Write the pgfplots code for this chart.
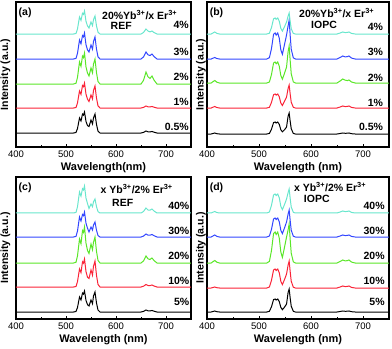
\documentclass[border=0pt]{standalone}
\usepackage{fontspec}
\setmainfont{Liberation Sans}
\usepackage{pgfplots}
\usepackage{pgfplotstable}
\pgfplotsset{compat=1.18}

\definecolor{cK}{RGB}{0,0,0}
\definecolor{cR}{RGB}{250,35,55}
\definecolor{cG}{RGB}{90,230,40}
\definecolor{cB}{RGB}{50,70,255}
\definecolor{cC}{RGB}{105,230,205}

% REF, 20%Yb / x Er (offsets already in the numbers)
\pgfplotstableread{
x k r g b c
400 14 39 63 88 113
515 14 39 63 88 113
520 14.5 39.5 63.7 88.6 113.5
523 18.5 44.1 69.6 93.7 118.1
527 29 56 85 107 130
530 26 52.6 80.6 103.2 126.6
533 32.9 61.5 90.9 111.4 133.7
535 31.9 60.3 89.4 110.1 132.6
537 35 64 94 114 136
540 25.6 52.8 80.1 102.3 125.7
543 21.4 47.8 73.9 97.1 121.1
546 20.5 45.5 71 95 119
550 27 52 79 102 125
553 23.1 48.1 74.2 97.8 121.4
555 29.2 56.6 83 105.6 127.4
558 33 61 88 110 131
561 22.6 48.9 74.3 97.9 121.1
564 15.9 41.2 65.5 90.2 114.8
568 14 39 63 88 113
650 14 39 63 88 113
655 14.6 39.6 66.6 90.1 114.5
660 16 41 75 95 118
664 15.2 40.2 70.2 92.2 116
668 15.1 40.1 68.6 91.5 115.1
672 15.5 40.5 71 93 116
676 14.8 39.8 67 90.5 114.5
682 14 39 63 88 113
750 14 39 63 88 113
}\dataA

% IOPC, 20%Yb / x Er
\pgfplotstableread{
x k r g b c
400 13 39 64 88 113
408 13 39 64 88 113
412 13.6 39.9 65.5 88.9 114.2
415 14 40.5 66.5 89.5 115
419 13.3 39.5 64.8 88.5 113.6
424 13 39 64 88 113
515 13 39 64 88 113
520 13.6 39.7 65 89.3 113.8
524 17.8 44.6 72.4 98.4 119.4
528 24.4 52.3 84 112.7 128.2
531 25 53 85 114 129
533 24 51.9 83.3 111.9 127.7
536 25 53 85 114 129
539 22.6 50.2 80.8 108.8 125.8
542 17.2 43.9 71.4 97.1 118.6
545 15.2 41.5 67.8 92.7 115.9
549 17.2 45.6 73.6 102.4 120.2
553 20 50 80 112 125
556 30.9 58.6 95.5 121.2 130.9
558 34 62 101 127 134
560 25.6 52.8 86.2 111.4 125.6
562 18.3 44.8 73.3 97.8 118.3
566 13.6 39.7 65.1 89.2 113.6
570 13 39 64 88 113
650 13 39 64 88 113
656 13.5 40 66 89.5 114
661 14 41 68 91 115
666 13.7 40.4 66.8 90.1 114.4
670 13.8 40.6 66.4 90.4 114.6
673 14 41 67 91 115
678 13.3 39.6 65 88.9 113.6
685 13 39 64 88 113
750 13 39 64 88 113
}\dataB

% REF, x Yb / 2% Er
\pgfplotstableread{
x k r g b c
400 7 32 56 82 106
515 7 32 56 82 106
520 7.5 32.5 56.7 82.6 106.6
523 11.5 37.4 63.2 88 112.3
527 22 50 80 102 127
530 19 46.4 75.2 98 122.8
533 25.9 57.2 88.4 104.5 130.3
535 24.9 55.8 86.6 103.3 129
537 28 60 92 107 133
540 18.6 47.4 75.8 95.8 120.9
543 14.4 41.8 68.6 90.8 115.5
546 13 40.5 65.5 87 110.5
550 19 49 75 92 115
553 15.4 43.9 69.3 89 112.3
555 23 52.8 76.8 94 117.2
558 27 58 82 97 120
561 16 43.7 67.7 88.8 112.3
564 9 34.6 58.6 83.5 107.4
568 7 32 56 82 106
650 7 32 56 82 106
655 7.6 32.8 58.1 82.9 107.5
660 9 34.5 63 85 111
664 8.2 33.5 60.2 83.8 109
668 8.1 33.4 59.5 83.8 108.8
672 8.5 34 61 84.5 110
676 7.8 33 58.5 83.3 108
682 7 32 56 82 106
750 7 32 56 82 106
}\dataC

% IOPC, x Yb / 2% Er
\pgfplotstableread{
x k r g b c
400 7 31 56 82 106
408 7 31 56 82 106
412 7.6 31.6 57.5 83.2 106.9
415 8 32 58.5 84 107.5
419 7.3 31.3 56.8 82.6 106.5
424 7 31 56 82 106
515 7 31 56 82 106
520 7.7 32 57.6 83 107
524 12.2 38.6 68.4 89.6 113.6
528 19.4 49 85.5 100 124
531 20 50 87 101 125
533 19 48.5 84.5 99.5 123.5
536 20 50 87 101 125
539 17.4 46.2 80.8 97.2 121.2
542 11.6 37.7 66.9 88.7 112.7
545 9.3 34.4 61.6 85.4 109.4
549 11.8 39.4 71.6 91 114.4
553 15 45 82 97 120
556 26.6 54 89.2 105 126.4
558 30 58 95 109 130
560 20.8 47.2 79.4 98.2 120.4
562 12.8 37.8 65.8 88.8 112
566 7.7 31.8 57.2 82.8 106.7
570 7 31 56 82 106
650 7 31 56 82 106
656 7.5 32 57.5 83 107
661 8 33 59 84 108
666 7.7 32.4 58.1 83.4 107.4
670 7.8 32.6 58.4 83.6 107.6
673 8 33 59 84 108
678 7.3 31.6 56.9 82.6 106.6
685 7 31 56 82 106
750 7 31 56 82 106
}\dataD

\pgfplotsset{
  panel/.style={
    scale only axis, anchor=south west,
    xmin=400, xmax=750, ymin=0,
    xtick={400,500,600,700}, minor xtick={450,550,650},
    xtick pos=left, ytick=\empty,
    tick align=inside, major tick length=3pt, minor tick length=2pt,
    axis line style={line width=1.1pt},
    every tick/.style={line width=0.8pt, black},
    ticklabel style={font=\fontsize{9.5}{10}\selectfont},
    /pgf/number format/assume math mode=true,
    label style={font=\bfseries\fontsize{11}{12}\selectfont},
    xlabel style={yshift=2pt},
    ylabel={Intensity (a.u.)},
  },
  ylab/.style={ylabel style={font=\bfseries\fontsize{10.5}{12}\selectfont,
    inner sep=0pt, anchor=south, at={(axis description cs:#1,0.5)}}},
  spec/.style={line width=1pt, no marks},
}
\tikzset{lab/.style={font=\bfseries\fontsize{10.5}{12}\selectfont, inner sep=0pt}}

\newcommand\spectra[1]{%
  \addplot[spec, cK] table[x=x, y=k] {#1};
  \addplot[spec, cR] table[x=x, y=r] {#1};
  \addplot[spec, cG] table[x=x, y=g] {#1};
  \addplot[spec, cB] table[x=x, y=b] {#1};
  \addplot[spec, cC] table[x=x, y=c] {#1};
}

\begin{document}
\begin{tikzpicture}
\path[use as bounding box] (0,0) rectangle (392pt,349pt);

% (a)
\begin{axis}[panel, ylab=-0.031, at={(16pt,202pt)}, width=175pt, height=145pt, ymax=145,
  xlabel={Wavelength(nm)}]
  \spectra{\dataA}
  \node[lab, anchor=west] at (axis cs:405,134) {(a)};
  \node[lab, anchor=west] at (axis cs:572,132) {20\%Yb\textsuperscript{3+}/x Er\textsuperscript{3+}};
  \node[lab, anchor=west] at (axis cs:589,121) {REF};
  \node[lab, anchor=east] at (axis cs:746,122) {4\%};
  \node[lab, anchor=east] at (axis cs:746,95) {3\%};
  \node[lab, anchor=east] at (axis cs:746,70) {2\%};
  \node[lab, anchor=east] at (axis cs:746,45) {1\%};
  \node[lab, anchor=east] at (axis cs:746,20) {0.5\%};
\end{axis}

% (b)
\begin{axis}[panel, ylab=-0.006, at={(207pt,202pt)}, width=182pt, height=145pt, ymax=145,
  xlabel={Wavelength (nm)}]
  \spectra{\dataB}
  \node[lab, anchor=west] at (axis cs:405,134) {(b)};
  \node[lab, anchor=west] at (axis cs:577,134) {20\%Yb\textsuperscript{3+}/x Er\textsuperscript{3+}};
  \node[lab, anchor=west] at (axis cs:600,122) {IOPC};
  \node[lab, anchor=east] at (axis cs:739,120) {4\%};
  \node[lab, anchor=east] at (axis cs:739,95) {3\%};
  \node[lab, anchor=east] at (axis cs:739,69) {2\%};
  \node[lab, anchor=east] at (axis cs:739,44) {1\%};
  \node[lab, anchor=east] at (axis cs:739,20) {0.5\%};
\end{axis}

% (c)
\begin{axis}[panel, ylab=-0.031, at={(16pt,30pt)}, width=175pt, height=142pt, ymax=142,
  xlabel={Wavelength (nm)}]
  \spectra{\dataC}
  \node[lab, anchor=west] at (axis cs:405,131) {(c)};
  \node[lab, anchor=west] at (axis cs:569,130) {x Yb\textsuperscript{3+}/2\% Er\textsuperscript{3+}};
  \node[lab, anchor=west] at (axis cs:592,116) {REF};
  \node[lab, anchor=east] at (axis cs:747,113) {40\%};
  \node[lab, anchor=east] at (axis cs:747,88) {30\%};
  \node[lab, anchor=east] at (axis cs:747,63) {20\%};
  \node[lab, anchor=east] at (axis cs:747,38) {10\%};
  \node[lab, anchor=east] at (axis cs:747,17) {5\%};
\end{axis}

% (d)
\begin{axis}[panel, ylab=-0.006, at={(207pt,30pt)}, width=182pt, height=142pt, ymax=142,
  xlabel={Wavelength (nm)}]
  \spectra{\dataD}
  \node[lab, anchor=west] at (axis cs:405,131) {(d)};
  \node[lab, anchor=west] at (axis cs:567,132) {x Yb\textsuperscript{3+}/2\% Er\textsuperscript{3+}};
  \node[lab, anchor=west] at (axis cs:586,120) {IOPC};
  \node[lab, anchor=east] at (axis cs:742,113) {40\%};
  \node[lab, anchor=east] at (axis cs:742,88) {30\%};
  \node[lab, anchor=east] at (axis cs:742,63) {20\%};
  \node[lab, anchor=east] at (axis cs:742,38) {10\%};
  \node[lab, anchor=east] at (axis cs:742,17) {5\%};
\end{axis}
\end{tikzpicture}
\end{document}
